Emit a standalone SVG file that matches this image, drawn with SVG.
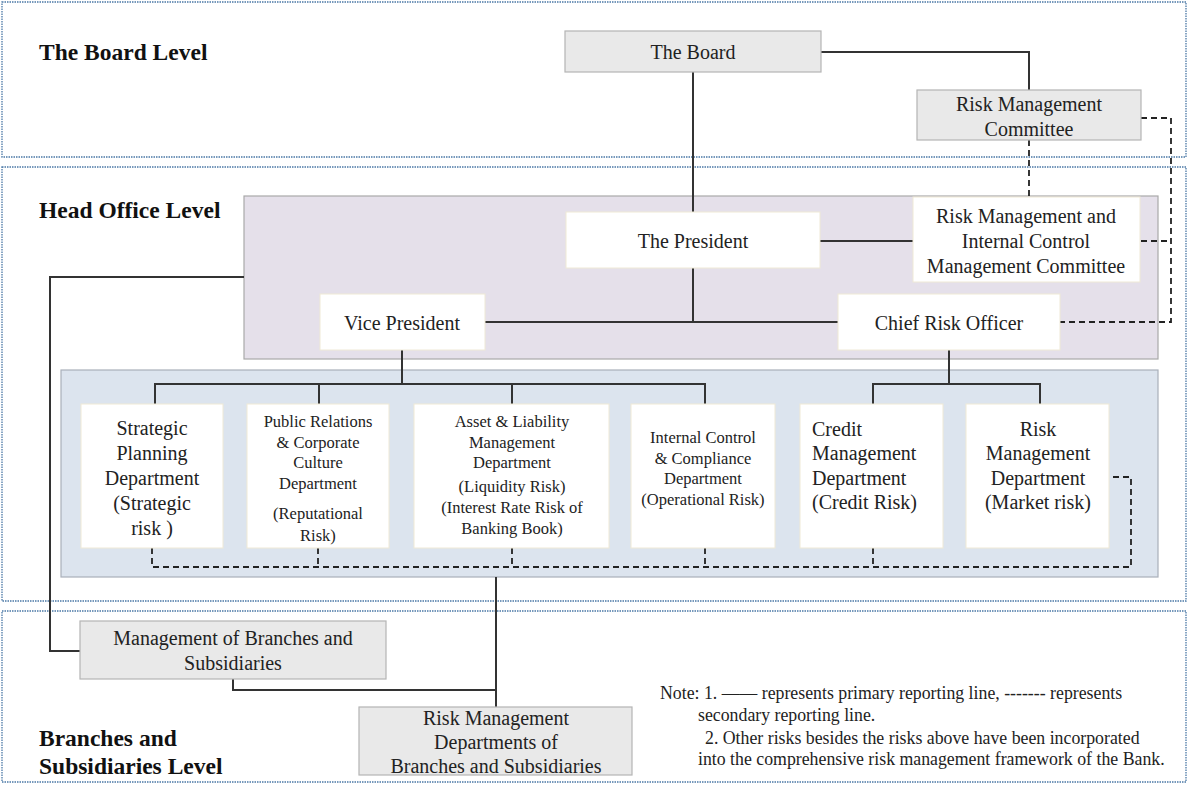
<svg xmlns="http://www.w3.org/2000/svg" width="1187" height="785" viewBox="0 0 1187 785">
<style>
.lvl{fill:none;stroke:#4a78a6;stroke-width:1.3;stroke-dasharray:1.5 1}
.lt{font-family:"Liberation Serif","Times New Roman",serif;font-weight:bold;font-size:23.5px;fill:#111}
.t{font-family:"Liberation Serif","Times New Roman",serif;font-size:20px;fill:#222;text-anchor:middle}
.ts{font-family:"Liberation Serif","Times New Roman",serif;font-size:20px;fill:#222;text-anchor:start}
.s{font-family:"Liberation Serif","Times New Roman",serif;font-size:16.5px;fill:#222;text-anchor:middle}
.n{font-family:"Liberation Serif","Times New Roman",serif;font-size:17.8px;fill:#222}
.gray{fill:#e9e9e9;stroke:#b4b4b4;stroke-width:1.2}
.white{fill:#ffffff;stroke:#efe9d6;stroke-width:1}
.sol{fill:none;stroke:#333;stroke-width:2}
.dash{fill:none;stroke:#222;stroke-width:1.8;stroke-dasharray:6 4}
</style>
<rect width="1187" height="785" fill="#fff"/>
<g id="levels">
<rect class="lvl" x="2" y="2" width="1184" height="155"/>
<rect class="lvl" x="2" y="167" width="1184" height="434"/>
<rect class="lvl" x="2" y="611" width="1184" height="171"/>
<text class="lt" x="39" y="60">The Board Level</text>
<text class="lt" x="39" y="218">Head Office Level</text>
<text class="lt" x="39" y="746">Branches and</text>
<text class="lt" x="39" y="774">Subsidiaries Level</text>
</g>
<g id="regions">
<rect x="244" y="196" width="914" height="163" fill="#e5e0ea" stroke="#a9a9a9" stroke-width="1.2"/>
<rect x="61" y="370" width="1097" height="207" fill="#dce4ee" stroke="#a9b0ba" stroke-width="1.2"/>
</g>
<g id="connectors">
<path class="sol" d="M693 72V212"/>
<path class="sol" d="M821 52H1029V90"/>
<path class="sol" d="M820 241H913"/>
<path class="sol" d="M693 268V322M485 322H838"/>
<path class="sol" d="M402 350V384M155 404V384H705V404M319 384V404M512 384V404"/>
<path class="sol" d="M949 350V384M873 404V384H1040V404"/>
<path class="sol" d="M244 277H50V651H80"/>
<path class="sol" d="M496 577V707M233 679V690H496"/>
<path class="dash" d="M1029 140V196"/>
<path class="dash" d="M1141 118H1171V322H1060M1141 241H1171"/>
<path class="dash" d="M152 548V567H1131V477H1111M318 548V567M512 548V567M705 548V567M873 548V567"/>
</g>
<g id="board"><rect class="gray" x="565" y="31" width="256" height="41"/><text class="t" x="693" y="59">The Board</text></g>
<g id="rmc"><rect class="gray" x="917" y="90" width="224" height="50"/><text class="t" x="1029" y="111">Risk Management</text><text class="t" x="1029" y="136">Committee</text></g>
<g id="president"><rect class="white" x="566" y="212" width="254" height="56"/><text class="t" x="693" y="248">The President</text></g>
<g id="rmicmc"><rect class="white" x="913" y="197" width="227" height="85"/><text class="t" x="1026" y="223">Risk Management and</text><text class="t" x="1026" y="248">Internal Control</text><text class="t" x="1026" y="273">Management Committee</text></g>
<g id="vp"><rect class="white" x="320" y="294" width="165" height="56"/><text class="t" x="402" y="330">Vice President</text></g>
<g id="cro"><rect class="white" x="838" y="294" width="222" height="56"/><text class="t" x="949" y="330">Chief Risk Officer</text></g>
<g id="spd"><rect class="white" x="81" y="404" width="142" height="144"/><text class="t" x="152" y="435">Strategic</text><text class="t" x="152" y="460">Planning</text><text class="t" x="152" y="485">Department</text><text class="t" x="152" y="510">(Strategic</text><text class="t" x="152" y="535">risk )</text></g>
<g id="prd"><rect class="white" x="247" y="404" width="142" height="144"/><text class="s" x="318" y="427">Public Relations</text><text class="s" x="318" y="448">&amp; Corporate</text><text class="s" x="318" y="468">Culture</text><text class="s" x="318" y="489">Department</text><text class="s" x="318" y="519">(Reputational</text><text class="s" x="318" y="541">Risk)</text></g>
<g id="ald"><rect class="white" x="414" y="404" width="195" height="144"/><text class="s" x="512" y="427">Asset &amp; Liability</text><text class="s" x="512" y="448">Management</text><text class="s" x="512" y="468">Department</text><text class="s" x="512" y="492">(Liquidity Risk)</text><text class="s" x="512" y="513">(Interest Rate Risk of</text><text class="s" x="512" y="534">Banking Book)</text></g>
<g id="icd"><rect class="white" x="631" y="404" width="144" height="144"/><text class="s" x="703" y="443">Internal Control</text><text class="s" x="703" y="464">&amp; Compliance</text><text class="s" x="703" y="484">Department</text><text class="s" x="703" y="505">(Operational Risk)</text></g>
<g id="cmd"><rect class="white" x="800" y="404" width="143" height="144"/><text class="ts" x="812" y="436">Credit</text><text class="ts" x="812" y="460">Management</text><text class="ts" x="812" y="485">Department</text><text class="ts" x="812" y="509">(Credit Risk)</text></g>
<g id="rmd"><rect class="white" x="966" y="404" width="143" height="144"/><text class="t" x="1038" y="436">Risk</text><text class="t" x="1038" y="460">Management</text><text class="t" x="1038" y="485">Department</text><text class="t" x="1038" y="509">(Market risk)</text></g>
<g id="mbs"><rect class="gray" x="80" y="621" width="306" height="58"/><text class="t" x="233" y="645">Management of Branches and</text><text class="t" x="233" y="670">Subsidiaries</text></g>
<g id="rmdbs"><rect class="gray" x="359" y="707" width="273" height="68"/><text class="t" x="496" y="725">Risk Management</text><text class="t" x="496" y="749">Departments of</text><text class="t" x="496" y="773">Branches and Subsidiaries</text></g>
<g id="note">
<text class="n" x="660" y="699">Note: 1. —— represents primary reporting line, ------- represents</text>
<text class="n" x="698" y="721">secondary reporting line.</text>
<text class="n" x="705" y="744">2. Other risks besides the risks above have been incorporated</text>
<text class="n" x="698" y="765">into the comprehensive risk management framework of the Bank.</text>
</g>
</svg>
